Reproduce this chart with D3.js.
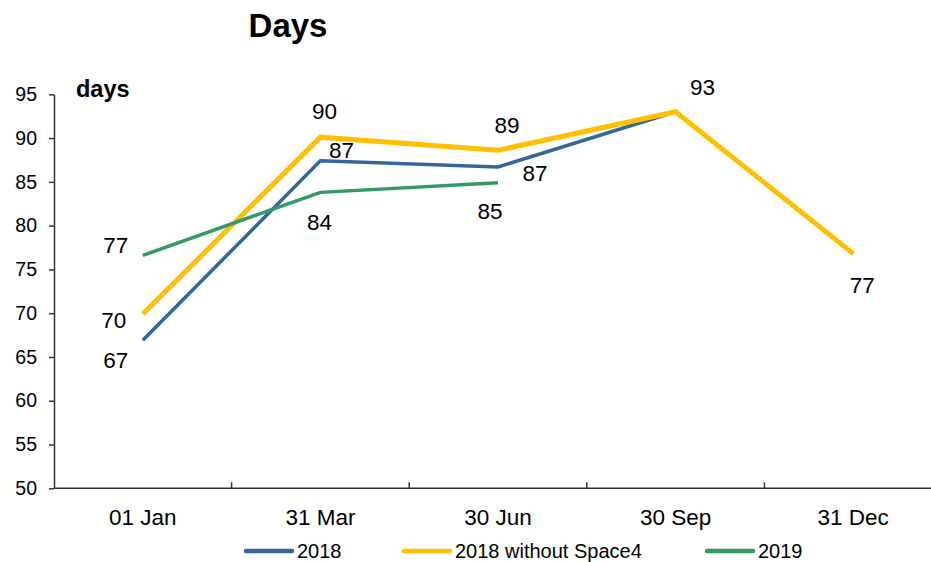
<!DOCTYPE html>
<html>
<head>
<meta charset="utf-8">
<script src="https://cdn.jsdelivr.net/npm/d3@7/dist/d3.min.js"></script>
<style>
  html, body { margin: 0; padding: 0; background: #fff; }
  svg { display: block; font-family: Arial, "Liberation Sans", sans-serif; }
</style>
</head>
<body>
<svg id="chart" width="931" height="562"></svg>
<script>
// Period-end dates on the x axis
const categories = ["01 Jan", "31 Mar", "30 Jun", "30 Sep", "31 Dec"];

// Days per series (null = no value yet)
const days2018 = [66.9, 87.4, 86.7, 93.0, 76.8];
const days2018NoSpace4 = [69.9, 90.1, 88.6, 93.0, 76.8];
const days2019 = [76.6, 83.8, 84.9, null, null];

const yTicks = [50, 55, 60, 65, 70, 75, 80, 85, 90, 95];
const seriesNames = ["2018", "2018 without Space4", "2019"];

// Label placement per point: [dx, dy] from the point to the text baseline centre; null = no label
const labelOffsets2018 = [[-27, 28], [21, -3], [37, 14], null, null];
const labelOffsetsNoSpace4 = [[-29, 14], [4, -18], [9, -17], [27, -17], [9, 39]];
const labelOffsets2019 = [[-27, -2], [-1, 38], [-8, 36], null, null];

const series = [
  { name: seriesNames[0], values: days2018, labels: labelOffsets2018, color: "#336699", width: 3.5 },
  { name: seriesNames[1], values: days2018NoSpace4, labels: labelOffsetsNoSpace4, color: "#FFC000", width: 5 },
  { name: seriesNames[2], values: days2019, labels: labelOffsets2019, color: "#339966", width: 3.5 }
];

const svg = d3.select("#chart");
const axisColor = "#333";

const x = d3.scaleBand().domain(categories).range([54, 942]);
const y = d3.scaleLinear().domain([50, 95]).range([488.3, 94.3]);

// Title and unit label
svg.append("text")
  .attr("x", 288).attr("y", 37)
  .attr("text-anchor", "middle")
  .attr("font-size", 33).attr("font-weight", "bold")
  .text("Days");

svg.append("text")
  .attr("x", 76).attr("y", 97)
  .attr("font-size", 23.5).attr("font-weight", "bold")
  .text("days");

// Y axis
const yAxis = svg.append("g")
  .attr("transform", `translate(${x.range()[0]},0)`)
  .call(d3.axisLeft(y).tickValues(yTicks).tickSize(5).tickPadding(12).tickSizeOuter(0));
yAxis.select(".domain").attr("stroke", axisColor).attr("stroke-width", 1.5);
yAxis.selectAll(".tick line").attr("stroke", axisColor).attr("stroke-width", 1.5);
yAxis.selectAll(".tick text")
  .attr("font-size", 19.5).attr("fill", "#000")
  .attr("font-family", "Arial, 'Liberation Sans', sans-serif");

// X axis: line with inward ticks at band boundaries
const xAxisG = svg.append("g");
xAxisG.append("line")
  .attr("x1", x.range()[0]).attr("x2", x.range()[1])
  .attr("y1", y(50)).attr("y2", y(50))
  .attr("stroke", axisColor).attr("stroke-width", 1.5);
xAxisG.selectAll("line.tick")
  .data(categories.slice(1))
  .join("line")
  .attr("class", "tick")
  .attr("x1", d => x(d)).attr("x2", d => x(d))
  .attr("y1", y(50)).attr("y2", y(50) - 6)
  .attr("stroke", axisColor).attr("stroke-width", 1.5);
xAxisG.selectAll("text")
  .data(categories)
  .join("text")
  .attr("x", d => x(d) + x.bandwidth() / 2)
  .attr("y", 525)
  .attr("text-anchor", "middle")
  .attr("font-size", 22.5)
  .text(d => d);

// Lines
const line = d3.line()
  .defined(d => d.v != null)
  .x(d => x(d.c) + x.bandwidth() / 2)
  .y(d => y(d.v));

series.forEach(s => {
  const pts = categories.map((c, i) => ({ c, v: s.values[i] }));
  svg.append("path")
    .datum(pts)
    .attr("fill", "none")
    .attr("stroke", s.color)
    .attr("stroke-width", s.width)
    .attr("stroke-linejoin", "miter")
    .attr("d", line);
});

// Value labels
series.forEach(s => {
  const pts = categories.map((c, i) => ({ c, v: s.values[i], off: s.labels[i] }))
    .filter(d => d.v != null && d.off);
  svg.append("g").selectAll("text")
    .data(pts)
    .join("text")
    .attr("x", d => x(d.c) + x.bandwidth() / 2 + d.off[0])
    .attr("y", d => y(d.v) + d.off[1])
    .attr("text-anchor", "middle")
    .attr("font-size", 22.5)
    .text(d => d3.format(".0f")(d.v));
});

// Legend
const legendX = [246, 404, 707];
const legend = svg.append("g");
series.forEach((s, i) => {
  legend.append("line")
    .attr("x1", legendX[i]).attr("x2", legendX[i] + 46)
    .attr("y1", 551).attr("y2", 551)
    .attr("stroke", s.color).attr("stroke-width", 4.5)
    .attr("stroke-linecap", "round");
  legend.append("text")
    .attr("x", legendX[i] + 51).attr("y", 558)
    .attr("font-size", 20)
    .text(s.name);
});
</script>
</body>
</html>
